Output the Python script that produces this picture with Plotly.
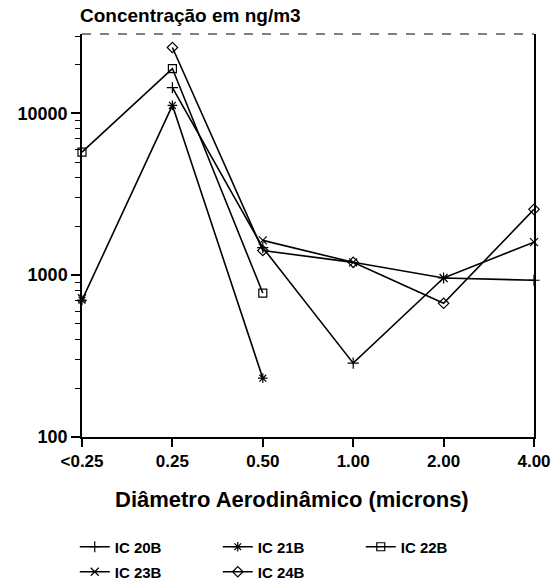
import plotly.graph_objects as go

categories = ["<0.25", "0.25", "0.50", "1.00", "2.00", "4.00"]
ic20b = [None, 14400, 1480, 286, 960, 930]
ic21b = [700, 11200, 231, None, None, None]
ic22b = [5750, 18900, 775, None, None, None]
ic23b = [720, None, 1640, 1200, 960, 1600]
ic24b = [None, 25500, 1420, 1200, 670, 2550]

series = [
    ("IC 20B", ic20b, "cross-thin-open", "legend"),
    ("IC 21B", ic21b, "asterisk-open", "legend"),
    ("IC 22B", ic22b, "square-open", "legend"),
    ("IC 23B", ic23b, "x-thin-open", "legend2"),
    ("IC 24B", ic24b, "diamond-open", "legend2"),
]

FONT = "Liberation Sans, Arial, sans-serif"

fig = go.Figure()
for name, vals, sym, leg in series:
    fig.add_trace(go.Scatter(
        x=categories, y=vals, name=name, mode="lines+markers",
        connectgaps=False, cliponaxis=False, legend=leg,
        line=dict(color="black", width=1.6),
        marker=dict(symbol=sym, size=8, color="black",
                    line=dict(color="black", width=1.2)),
    ))

legend_common = dict(
    orientation="h", xanchor="left", yanchor="middle",
    entrywidth=98, entrywidthmode="pixels",
    font=dict(family=FONT, size=15, weight="bold"),
    bgcolor="rgba(0,0,0,0)",
)

fig.update_layout(
    width=556, height=584,
    margin=dict(l=82, r=22, t=34, b=147, autoexpand=False),
    paper_bgcolor="white", plot_bgcolor="white",
    font=dict(family=FONT, color="black"),
    showlegend=True,
    legend=dict(x=-0.016, y=-0.273, **legend_common),
    legend2=dict(x=-0.016, y=-0.335, **legend_common),
    xaxis=dict(
        type="category", categoryorder="array", categoryarray=categories,
        range=[0, 5], showgrid=False, zeroline=False,
        showline=True, linecolor="black", linewidth=1.5,
        ticks="outside", ticklen=8, tickcolor="black", tickwidth=1.5,
        tickfont=dict(family=FONT, size=17, weight="bold"),
    ),
    yaxis=dict(
        type="log", range=[2, 4.49], showgrid=False, zeroline=False,
        showline=True, linecolor="black", linewidth=1.5, mirror=True,
        tickvals=[100, 1000, 10000], ticktext=["100", "1000", "10000"],
        ticks="outside", ticklen=9, tickcolor="black", tickwidth=1.5,
        minor=dict(ticks="outside", ticklen=5, tickcolor="black", tickwidth=1,
                   dtick="D1"),
        tickfont=dict(family=FONT, size=18, weight="bold"),
    ),
)

fig.add_shape(type="line", xref="paper", yref="paper", x0=0, x1=1, y0=1, y1=1,
              line=dict(color="black", width=1, dash="dash"))

fig.add_annotation(
    text="Concentração em ng/m3", xref="paper", yref="paper",
    x=0, y=1, xanchor="left", yanchor="bottom", xshift=-4, yshift=6,
    showarrow=False, font=dict(family=FONT, size=19, weight="bold"),
)

fig.add_annotation(
    text="Diâmetro Aerodinâmico (microns)", xref="paper", yref="paper",
    x=0.465, y=-0.156, xanchor="center", yanchor="middle",
    showarrow=False, font=dict(family=FONT, size=22, weight="bold"),
)

fig.write_html("out.html")
